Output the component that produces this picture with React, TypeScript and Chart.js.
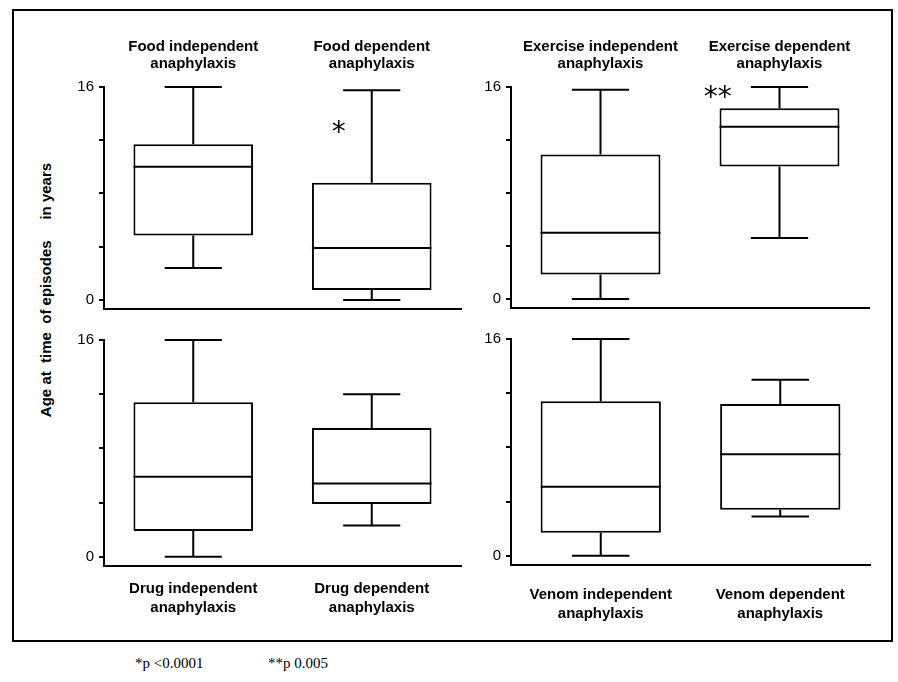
import React, { useEffect, useRef } from "react";
import { Chart, registerables } from "chart.js";

Chart.register(...registerables);

const SANS = "'Liberation Sans', Arial, sans-serif";
const SERIF = "'Liberation Serif', 'Times New Roman', serif";

// ---------- data ----------
const foodCategories = [["Food independent", "anaphylaxis"], ["Food dependent", "anaphylaxis"]];
const foodMin = [2.4, 0];
const foodQ1 = [4.85, 0.75];
const foodMedian = [10.0, 3.9];
const foodQ3 = [11.7, 8.8];
const foodMax = [16, 15.75];
const foodMarks = ["", "*"];
const foodMarkY = [0, 13.0];
const foodMarkDx = [0, -0.185];

const exerciseCategories = [["Exercise independent", "anaphylaxis"], ["Exercise dependent", "anaphylaxis"]];
const exerciseMin = [0, 4.6];
const exerciseQ1 = [1.85, 10.0];
const exerciseMedian = [5.0, 13.0];
const exerciseQ3 = [10.9, 14.4];
const exerciseMax = [15.8, 16];
const exerciseMarks = ["", "**"];
const exerciseMarkY = [0, 15.65];
const exerciseMarkDx = [0, -0.345];

const drugCategories = [["Drug independent", "anaphylaxis"], ["Drug dependent", "anaphylaxis"]];
const drugMin = [0, 2.3];
const drugQ1 = [1.9, 3.9];
const drugMedian = [5.9, 5.4];
const drugQ3 = [11.4, 9.5];
const drugMax = [16, 12.0];

const venomCategories = [["Venom independent", "anaphylaxis"], ["Venom dependent", "anaphylaxis"]];
const venomMin = [0, 2.9];
const venomQ1 = [1.7, 3.4];
const venomMedian = [5.1, 7.5];
const venomQ3 = [11.4, 11.2];
const venomMax = [16, 13.0];

const noMarks = ["", ""];
const noMarkY = [0, 0];
const noMarkDx = [0, 0];

const yTickValues = [0, 4, 8, 12, 16];
const yTickLabels = ["0", "", "", "", "16"];
const yMin = -0.68;
const yMax = 16;
const yAxisTitle = "Age at  time  of episodes     in years";
const footnotes = ["*p <0.0001", "**p 0.005"];

// ---------- panel ----------
type Area = { left: number; top: number; width: number; height: number };
type PanelProps = {
  cats: string[][];
  min: number[];
  q1: number[];
  med: number[];
  q3: number[];
  max: number[];
  marks: string[];
  markY: number[];
  markDx: number[];
  labelsOnTop: boolean;
  labelPad: number;
  area: Area;
};

const YW = 50;
const RP = 8;

function Panel(p: PanelProps) {
  const ref = useRef<HTMLCanvasElement>(null);
  const TH = p.labelsOnTop ? 75 : 14;
  const BH = p.labelsOnTop ? 14 : 80;
  const cw = p.area.width + YW + RP;
  const ch = p.area.height + TH + BH;

  useEffect(() => {
    if (!ref.current) return;
    const boxPlugin = {
      id: "boxWhiskers",
      afterDatasetsDraw(chart: any) {
        const ctx = chart.ctx as CanvasRenderingContext2D;
        const xs = chart.scales.x;
        const ys = chart.scales.y;
        const meta = chart.getDatasetMeta(0);
        ctx.save();
        ctx.strokeStyle = "#000";
        ctx.lineWidth = 2;
        ctx.lineCap = "butt";
        p.cats.forEach((_, i) => {
          const cx = xs.getPixelForValue(i);
          const capHalf = xs.getPixelForValue(i + 0.16) - cx;
          const bar = meta.data[i];
          const half = bar.width / 2;
          const yq1 = ys.getPixelForValue(p.q1[i]);
          const yq3 = ys.getPixelForValue(p.q3[i]);
          const ymin = ys.getPixelForValue(p.min[i]);
          const ymax = ys.getPixelForValue(p.max[i]);
          const ymed = ys.getPixelForValue(p.med[i]);
          ctx.beginPath();
          ctx.moveTo(cx, yq3);
          ctx.lineTo(cx, ymax);
          ctx.moveTo(cx - capHalf, ymax);
          ctx.lineTo(cx + capHalf, ymax);
          ctx.moveTo(cx, yq1);
          ctx.lineTo(cx, ymin);
          ctx.moveTo(cx - capHalf, ymin);
          ctx.lineTo(cx + capHalf, ymin);
          ctx.moveTo(cx - half, ymed);
          ctx.lineTo(cx + half, ymed);
          ctx.stroke();
          if (p.marks[i]) {
            ctx.font = "28px 'DejaVu Sans', sans-serif";
            ctx.fillStyle = "#000";
            ctx.textAlign = "center";
            ctx.textBaseline = "alphabetic";
            const m = ctx.measureText(p.marks[i]);
            const mx = xs.getPixelForValue(i + p.markDx[i]);
            const my = ys.getPixelForValue(p.markY[i]);
            const off = (m.actualBoundingBoxAscent - m.actualBoundingBoxDescent) / 2;
            ctx.fillText(p.marks[i], mx, my + off);
          }
        });
        ctx.restore();
      },
    };

    const labelFont = { family: SANS, size: 15, weight: "bold" as const, lineHeight: p.labelsOnTop ? 1.12 : 1.3 };

    const scales: any = {
      x: {
        type: "category",
        position: "bottom",
        offset: true,
        grid: { display: false, drawTicks: false },
        border: { display: true, color: "#000", width: 2 },
        ticks: {
          display: !p.labelsOnTop,
          autoSkip: false,
          maxRotation: 0,
          minRotation: 0,
          color: "#000",
          padding: p.labelPad,
          font: labelFont,
        },
        afterFit(s: any) {
          s.height = BH;
        },
      },
      y: {
        type: "linear",
        min: yMin,
        max: yMax,
        afterBuildTicks(s: any) {
          s.ticks = yTickValues.map((v) => ({ value: v }));
        },
        ticks: {
          autoSkip: false,
          color: "#000",
          padding: 5,
          font: { family: SANS, size: 15 },
          callback: (v: any) => {
            const k = yTickValues.indexOf(Number(v));
            return k >= 0 ? yTickLabels[k] : "";
          },
        },
        grid: { drawOnChartArea: false, drawTicks: true, tickLength: 5, color: "#000", lineWidth: 2 },
        border: { display: true, color: "#000", width: 2 },
        afterFit(s: any) {
          s.width = YW;
        },
      },
    };
    if (p.labelsOnTop) {
      scales.xt = {
        type: "category",
        position: "top",
        offset: true,
        labels: p.cats,
        grid: { display: false, drawTicks: false },
        border: { display: false },
        ticks: {
          autoSkip: false,
          maxRotation: 0,
          minRotation: 0,
          color: "#000",
          padding: p.labelPad,
          font: labelFont,
        },
        afterFit(s: any) {
          s.height = TH;
        },
      };
    }

    const chart = new Chart(ref.current, {
      type: "bar",
      data: {
        labels: p.cats as any,
        datasets: [
          {
            data: p.q1.map((v, i) => [v, p.q3[i]]) as any,
            backgroundColor: "#ffffff",
            borderColor: "#000000",
            borderWidth: 2,
            borderSkipped: false,
            barPercentage: 0.67,
            categoryPercentage: 1,
          },
        ],
      },
      options: {
        animation: false,
        responsive: false,
        maintainAspectRatio: false,
        devicePixelRatio: 1,
        events: [],
        layout: { padding: { left: 0, right: RP, top: 0, bottom: 0 } },
        plugins: { legend: { display: false }, tooltip: { enabled: false }, title: { display: false } },
        scales,
      },
      plugins: [boxPlugin],
    });
    return () => chart.destroy();
  }, []);

  return (
    <canvas
      ref={ref}
      width={cw}
      height={ch}
      style={{ position: "absolute", left: p.area.left - YW, top: p.area.top - TH, width: cw, height: ch }}
    />
  );
}

export default function App() {
  return (
    <div style={{ position: "absolute", left: 0, top: 0, width: 898, height: 682, background: "#fff", overflow: "hidden" }}>
      <div
        style={{
          position: "absolute",
          left: 12,
          top: 9,
          width: 881,
          height: 633,
          border: "2px solid #000",
          boxSizing: "border-box",
        }}
      />
      <Panel
        cats={foodCategories}
        min={foodMin}
        q1={foodQ1}
        med={foodMedian}
        q3={foodQ3}
        max={foodMax}
        marks={foodMarks}
        markY={foodMarkY}
        markDx={foodMarkDx}
        labelsOnTop={true}
        labelPad={15}
        area={{ left: 104, top: 87, width: 357, height: 222 }}
      />
      <Panel
        cats={exerciseCategories}
        min={exerciseMin}
        q1={exerciseQ1}
        med={exerciseMedian}
        q3={exerciseQ3}
        max={exerciseMax}
        marks={exerciseMarks}
        markY={exerciseMarkY}
        markDx={exerciseMarkDx}
        labelsOnTop={true}
        labelPad={15}
        area={{ left: 511, top: 87, width: 358, height: 221 }}
      />
      <Panel
        cats={drugCategories}
        min={drugMin}
        q1={drugQ1}
        med={drugMedian}
        q3={drugQ3}
        max={drugMax}
        marks={noMarks}
        markY={noMarkY}
        markDx={noMarkDx}
        labelsOnTop={false}
        labelPad={13}
        area={{ left: 104, top: 340, width: 357, height: 226 }}
      />
      <Panel
        cats={venomCategories}
        min={venomMin}
        q1={venomQ1}
        med={venomMedian}
        q3={venomQ3}
        max={venomMax}
        marks={noMarks}
        markY={noMarkY}
        markDx={noMarkDx}
        labelsOnTop={false}
        labelPad={20}
        area={{ left: 511, top: 339, width: 359, height: 226 }}
      />
      <div
        style={{
          position: "absolute",
          left: 45,
          top: 290,
          transform: "translate(-50%, -50%) rotate(-90deg)",
          font: `bold 15px ${SANS}`,
          whiteSpace: "pre",
          color: "#000",
        }}
      >
        {yAxisTitle}
      </div>
      <div style={{ position: "absolute", left: 135, top: 655, font: `15px ${SERIF}`, whiteSpace: "pre", color: "#000" }}>
        {footnotes[0]}
      </div>
      <div style={{ position: "absolute", left: 268, top: 655, font: `15px ${SERIF}`, whiteSpace: "pre", color: "#000" }}>
        {footnotes[1]}
      </div>
    </div>
  );
}
